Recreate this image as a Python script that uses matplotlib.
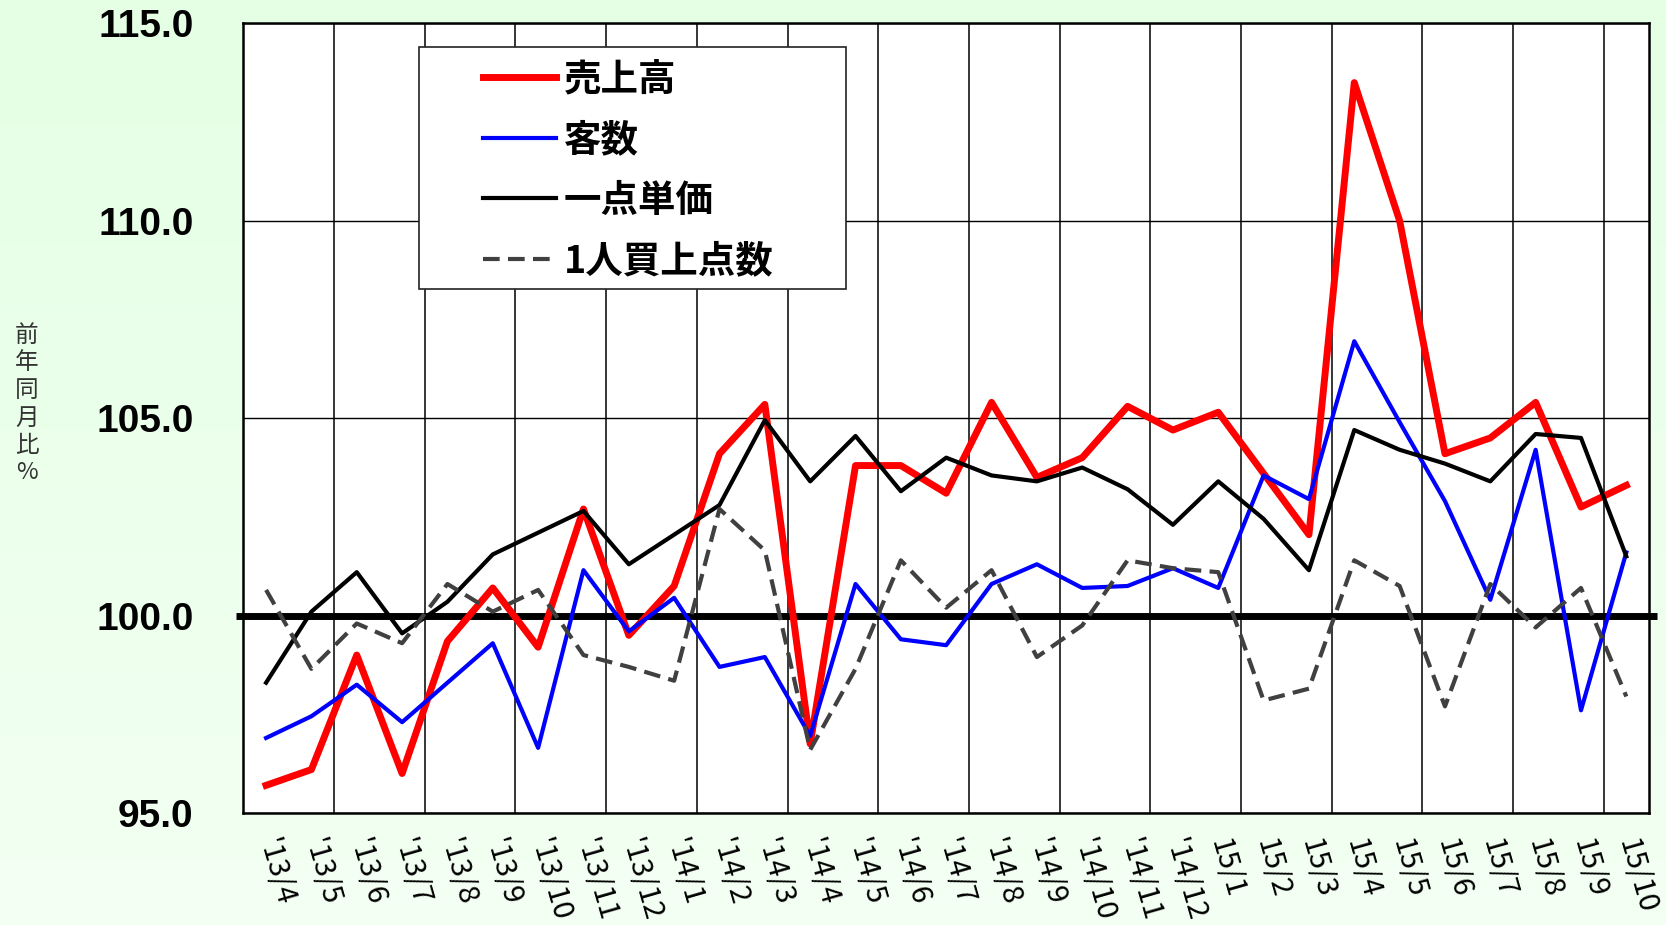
import matplotlib
matplotlib.use('Agg')
import matplotlib.pyplot as plt
import numpy as np
from matplotlib.colors import LinearSegmentedColormap
from matplotlib.patches import Rectangle

plt.rcParams['font.family'] = ['Noto Sans CJK JP', 'DejaVu Sans']

# 月ラベル
meses = ["'13/4", "'13/5", "'13/6", "'13/7", "'13/8", "'13/9", "'13/10", "'13/11", "'13/12",
         "'14/1", "'14/2", "'14/3", "'14/4", "'14/5", "'14/6", "'14/7", "'14/8", "'14/9",
         "'14/10", "'14/11", "'14/12",
         "15/1", "15/2", "15/3", "15/4", "15/5", "15/6", "15/7", "15/8", "15/9", "15/10"]

# 前年同月比 (%)
uriage = [95.7, 96.1, 99.0, 96.0, 99.35, 100.7, 99.2, 102.7, 99.5, 100.75, 104.1, 105.35,
          96.75, 103.8, 103.8, 103.1, 105.4, 103.5, 104.0, 105.3, 104.7, 105.15, 103.6, 102.05,
          113.5, 110.0, 104.1, 104.5, 105.4, 102.75, 103.3]
kyakusu = [96.9, 97.45, 98.25, 97.3, 98.3, 99.3, 96.65, 101.15, 99.6, 100.45, 98.7, 98.95,
           96.95, 100.8, 99.4, 99.25, 100.8, 101.3, 100.7, 100.75, 101.2, 100.7, 103.55, 102.95,
           106.95, 104.9, 102.9, 100.4, 104.2, 97.6, 101.6]
tanka = [98.3, 100.1, 101.1, 99.55, 100.35, 101.55, 102.1, 102.65, 101.3, 102.05, 102.8, 104.95,
         103.4, 104.55, 103.15, 104.0, 103.55, 103.4, 103.75, 103.2, 102.3, 103.4, 102.45, 101.15,
         104.7, 104.2, 103.85, 103.4, 104.6, 104.5, 101.5]
tensu = [100.65, 98.65, 99.8, 99.3, 100.8, 100.1, 100.65, 99.0, 98.7, 98.35, 102.7, 101.65,
         96.6, 98.65, 101.4, 100.2, 101.15, 98.95, 99.75, 101.4, 101.2, 101.1, 97.85, 98.15,
         101.4, 100.75, 97.7, 100.8, 99.7, 100.7, 97.95]

rotulos = ['売上高', '客数', '一点単価', '1人買上点数']
y_ticks = [95, 100, 105, 110, 115]


def desenhar():
    fig = plt.figure(figsize=(16.66, 9.25), dpi=100)

    # 背景のグラデーション
    bg = fig.add_axes([0, 0, 1, 1], zorder=-10)
    cmap = LinearSegmentedColormap.from_list('bg', ['#E4FFE4', '#F3FFF3'])
    bg.imshow(np.linspace(0, 1, 256).reshape(-1, 1), cmap=cmap, aspect='auto',
              extent=[0, 1, 0, 1])
    bg.axis('off')

    ax = fig.add_axes([0.1461, 0.1211, 0.8437, 0.8536])
    ax.set_facecolor('white')
    x = np.arange(len(meses))

    # グリッド
    ax.set_yticks(y_ticks)
    ax.set_xticks(x)
    ax.set_xticks(np.arange(1.5, len(meses) - 1, 2), minor=True)
    ax.grid(axis='y', which='major', color='black', lw=1.0, zorder=1)
    ax.grid(axis='x', which='minor', color='black', lw=1.1, zorder=1)
    ax.set_axisbelow(True)

    # 100% の基準線
    ax.axhline(100, xmin=-0.005, xmax=1.006, color='black', lw=5, clip_on=False,
               zorder=2, solid_capstyle='butt')

    l1, = ax.plot(x, uriage, color='#FF0000', lw=5.0, zorder=3)
    l2, = ax.plot(x, kyakusu, color='#0000FF', lw=3.0, zorder=3)
    l3, = ax.plot(x, tanka, color='black', lw=3.0, zorder=3)
    l4, = ax.plot(x, tensu, color='#404040', lw=3.0, ls=(0, (4, 2)), zorder=3)

    ax.set_xlim(-0.5, len(meses) - 0.5)
    ax.set_ylim(95, 115)

    ax.set_yticklabels([f'{v:.1f}' for v in y_ticks],
                       fontfamily=['Liberation Sans', 'DejaVu Sans'],
                       fontweight='bold', fontsize=28)
    ax.set_xticklabels(meses, rotation=-74, ha='left', va='center',
                       rotation_mode='anchor', fontsize=21)
    ax.tick_params(axis='y', length=0, pad=36)
    ax.tick_params(axis='x', which='both', length=0, pad=19)

    for s in ax.spines.values():
        s.set_linewidth(1.8)
        s.set_color('black')

    # 凡例
    caixa = Rectangle((0.2515, 0.6876), 0.2563, 0.2616, transform=fig.transFigure,
                      facecolor='white', edgecolor='#222222', lw=1.2, zorder=4,
                      clip_on=False)
    ax.add_patch(caixa)
    leg = ax.legend([l1, l2, l3, l4], rotulos, loc='upper left',
                    bbox_to_anchor=(0.2899, 0.9358), bbox_transform=fig.transFigure,
                    frameon=False, borderpad=0, borderaxespad=0, handlelength=1.95,
                    handletextpad=0.2, labelspacing=0.575,
                    prop={'family': ['Noto Sans CJK JP', 'DejaVu Sans'],
                          'weight': 'bold', 'size': 27})
    leg.set_zorder(5)

    # 縦書きの軸ラベル
    fig.text(0.016, 0.563, '\n'.join('前年同月比%'), ha='center', va='center',
             fontsize=17, linespacing=1.25, color='#333333')

    fig.savefig('out.png', dpi=100)


if __name__ == '__main__':
    desenhar()
